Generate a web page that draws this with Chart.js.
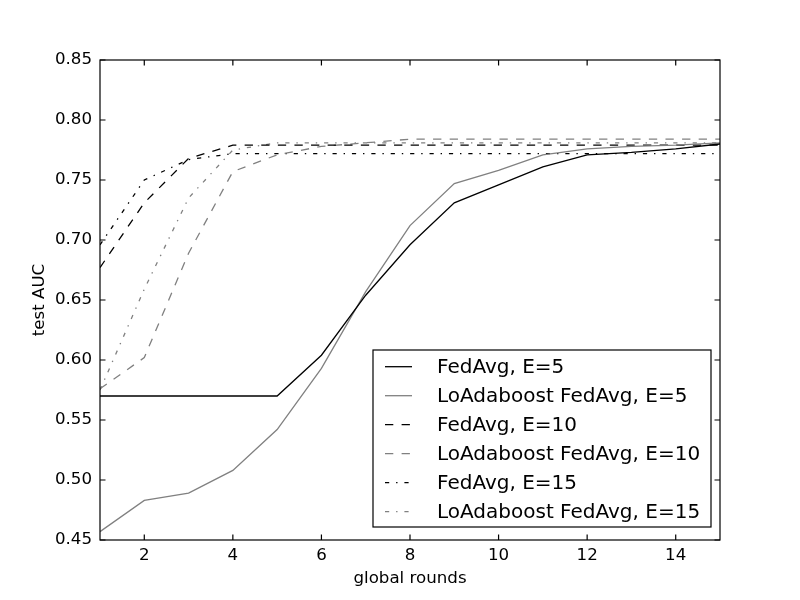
<!DOCTYPE html>
<html>
<head>
<meta charset="utf-8">
<script src="https://cdn.jsdelivr.net/npm/chart.js@4.4.1/dist/chart.umd.min.js"></script>
<style>
  html, body { margin: 0; padding: 0; background: #fff; }
  #wrap { width: 800px; height: 600px; position: relative; }
</style>
</head>
<body>
<div id="wrap"><canvas id="chartAuc"></canvas></div>
<script>
// global rounds on x, test AUC per setting
const rounds = [1, 2, 3, 4, 5, 6, 7, 8, 9, 10, 11, 12, 13, 14, 15];
const fedAvgE5    = [0.570, 0.570, 0.570, 0.570, 0.570, 0.604, 0.654, 0.696, 0.731, 0.746, 0.761, 0.771, 0.773, 0.776, 0.780];
const loAdaE5     = [0.457, 0.483, 0.489, 0.508, 0.542, 0.593, 0.657, 0.712, 0.747, 0.758, 0.771, 0.776, 0.778, 0.779, 0.781];
const fedAvgE10   = [0.677, 0.731, 0.768, 0.779, 0.779, 0.779, 0.779, 0.779, 0.779, 0.779, 0.779, 0.779, 0.779, 0.779, 0.779];
const loAdaE10    = [0.576, 0.602, 0.689, 0.757, 0.771, 0.778, 0.781, 0.784, 0.784, 0.784, 0.784, 0.784, 0.784, 0.784, 0.784];
const fedAvgE15   = [0.696, 0.750, 0.767, 0.772, 0.772, 0.772, 0.772, 0.772, 0.772, 0.772, 0.772, 0.772, 0.772, 0.772, 0.772];
const loAdaE15    = [0.575, 0.659, 0.735, 0.775, 0.781, 0.781, 0.781, 0.781, 0.781, 0.781, 0.781, 0.781, 0.781, 0.781, 0.781];
const seriesNames = ['FedAvg, E=5', 'LoAdaboost FedAvg, E=5', 'FedAvg, E=10',
                     'LoAdaboost FedAvg, E=10', 'FedAvg, E=15', 'LoAdaboost FedAvg, E=15'];
const xTicks = [2, 4, 6, 8, 10, 12, 14];
const yTicks = [0.45, 0.50, 0.55, 0.60, 0.65, 0.70, 0.75, 0.80, 0.85];

const FONT = 'DejaVu Sans';
const BLACK = '#000000';
const GRAY = '#808080';
const DASHED = [8.3, 8.3];
const DASHDOT = [4.2, 6.9, 1.4, 6.9];

const pts = ys => rounds.map((r, i) => ({ x: r, y: ys[i] }));
const line = (label, ys, color, dash) => ({
    label, data: pts(ys), borderColor: color, borderWidth: 1.3, borderDash: dash,
    pointRadius: 0, tension: 0, fill: false
});

// frame + inward tick marks on all four sides (matplotlib classic look)
const frameTicks = {
    id: 'frameTicks',
    afterDatasetsDraw(chart) {
        const { ctx, chartArea: a, scales: { x, y } } = chart;
        const len = 5.5;
        ctx.save();
        ctx.strokeStyle = BLACK;
        ctx.lineWidth = 1.2;
        ctx.setLineDash([]);
        ctx.beginPath();
        xTicks.forEach(v => {
            const px = x.getPixelForValue(v);
            ctx.moveTo(px, a.bottom); ctx.lineTo(px, a.bottom - len);
            ctx.moveTo(px, a.top); ctx.lineTo(px, a.top + len);
        });
        yTicks.forEach(v => {
            const py = y.getPixelForValue(v);
            ctx.moveTo(a.left, py); ctx.lineTo(a.left + len, py);
            ctx.moveTo(a.right, py); ctx.lineTo(a.right - len, py);
        });
        ctx.stroke();
        ctx.strokeRect(a.left, a.top, a.right - a.left, a.bottom - a.top);
        ctx.restore();
    }
};

// boxed legend in the lower right of the plot area
const boxLegend = {
    id: 'boxLegend',
    afterDraw(chart) {
        const { ctx, chartArea: a } = chart;
        const w = 338, h = 177;
        const bx = a.right - 9 - w, by = a.bottom - 13 - h;
        ctx.save();
        ctx.fillStyle = '#ffffff';
        ctx.fillRect(bx, by, w, h);
        ctx.strokeStyle = BLACK;
        ctx.lineWidth = 1.2;
        ctx.setLineDash([]);
        ctx.strokeRect(bx, by, w, h);
        ctx.font = '20px "' + FONT + '"';
        ctx.textBaseline = 'middle';
        ctx.textAlign = 'left';
        chart.data.datasets.forEach((ds, i) => {
            const cy = by + 16.7 + i * 29;
            ctx.strokeStyle = ds.borderColor;
            ctx.lineWidth = ds.borderWidth;
            ctx.setLineDash(ds.borderDash || []);
            ctx.beginPath();
            ctx.moveTo(bx + 12, cy);
            ctx.lineTo(bx + 39, cy);
            ctx.stroke();
            ctx.setLineDash([]);
            ctx.fillStyle = BLACK;
            ctx.fillText(ds.label, bx + 64, cy + 1);
        });
        ctx.restore();
    }
};

const ctxAuc = document.getElementById('chartAuc').getContext('2d');
const graficoAuc = new Chart(ctxAuc, {
    type: 'line',
    data: {
        datasets: [
            line(seriesNames[0], fedAvgE5, BLACK, []),
            line(seriesNames[1], loAdaE5, GRAY, []),
            line(seriesNames[2], fedAvgE10, BLACK, DASHED),
            line(seriesNames[3], loAdaE10, GRAY, DASHED),
            line(seriesNames[4], fedAvgE15, BLACK, DASHDOT),
            line(seriesNames[5], loAdaE15, GRAY, DASHDOT)
        ]
    },
    plugins: [frameTicks, boxLegend],
    options: {
        responsive: true, maintainAspectRatio: false, animation: false, devicePixelRatio: 1,
        layout: { padding: { top: 60, right: 80, left: 0, bottom: 0 } },
        plugins: { legend: { display: false }, tooltip: { enabled: false } },
        scales: {
            x: {
                type: 'linear', min: 1, max: 15,
                afterBuildTicks: s => { s.ticks = xTicks.map(v => ({ value: v })); },
                afterFit: s => { s.height = 60; },
                grid: { display: false, drawTicks: false },
                border: { display: false },
                ticks: { color: BLACK, font: { family: FONT, size: 16.67 }, padding: 6, maxRotation: 0 },
                title: { display: true, text: 'global rounds', color: BLACK,
                         font: { family: FONT, size: 16.67 }, padding: { top: 0, bottom: 11 } }
            },
            y: {
                type: 'linear', min: 0.45, max: 0.85,
                afterBuildTicks: s => { s.ticks = yTicks.map(v => ({ value: v })); },
                afterFit: s => { s.width = 100; },
                grid: { display: false, drawTicks: false },
                border: { display: false },
                ticks: { color: BLACK, font: { family: FONT, size: 16.67 }, padding: 8,
                         callback: v => v.toFixed(2) },
                title: { display: true, text: 'test AUC', color: BLACK,
                         font: { family: FONT, size: 16.67 }, padding: { top: 30, bottom: 0 } }
            }
        }
    }
});
</script>
</body>
</html>
